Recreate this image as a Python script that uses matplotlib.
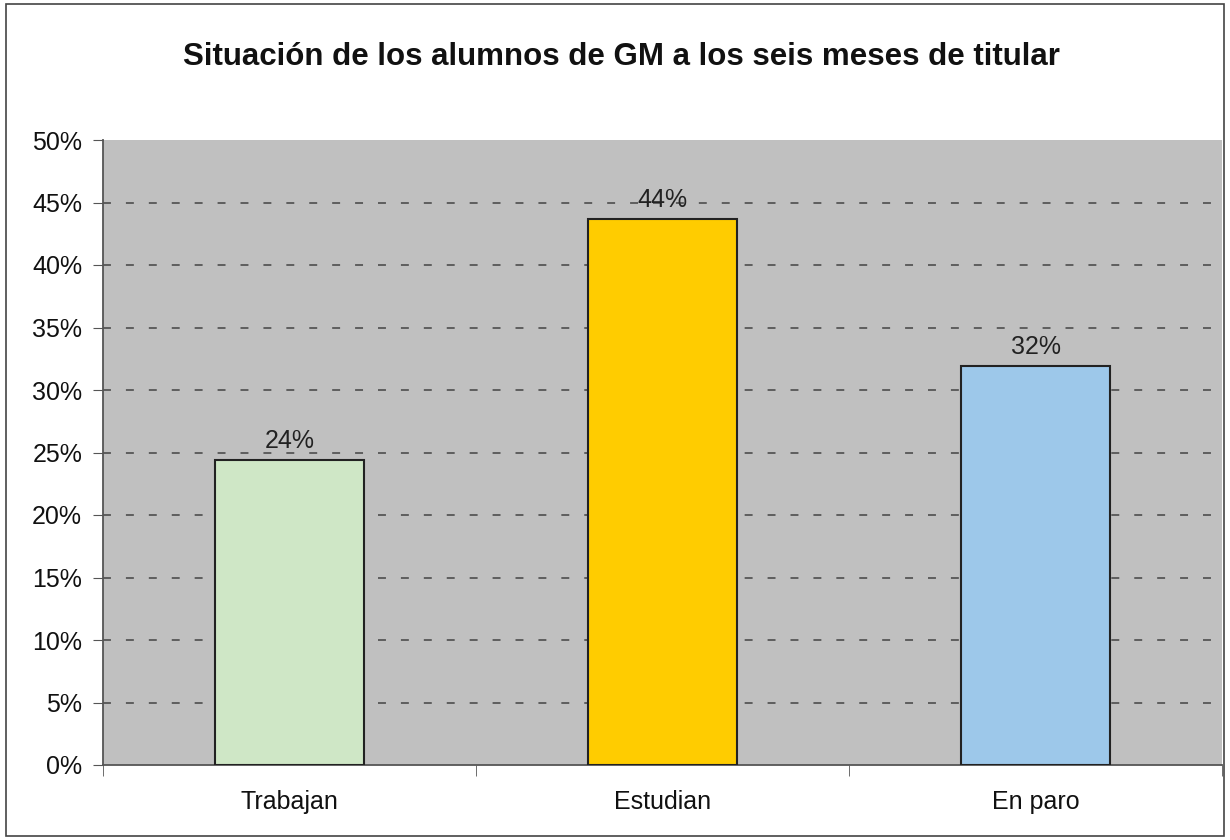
import numpy as np
import matplotlib.pyplot as plt
from matplotlib.patches import Rectangle
from matplotlib.ticker import FixedLocator, PercentFormatter

# datos
categorias = ["Trabajan", "Estudian", "En paro"]
valores = [24.4, 43.7, 31.9]
etiquetas = ["24%", "44%", "32%"]
colores = ["#CFE7C6", "#FFCC00", "#9DC8EA"]

plt.rcParams["font.family"] = ["Liberation Sans", "DejaVu Sans"]

fig = plt.figure(figsize=(12.3, 8.4), dpi=100)
ax = fig.add_axes([103 / 1230, 75 / 840, 1119 / 1230, 625 / 840])

# borde de la figura
fig.patches.append(Rectangle((6 / 1230, 4 / 840), 1218 / 1230, 832 / 840,
                             transform=fig.transFigure, fill=False,
                             edgecolor="#444444", linewidth=1.2))

x = np.arange(len(categorias))
ax.set_facecolor("#C0C0C0")
bars = ax.bar(x, valores, width=0.4, color=colores, edgecolor="#222222",
              linewidth=1.5, zorder=3)

for b, lab in zip(bars, etiquetas):
    ax.annotate(lab, (b.get_x() + b.get_width() / 2, b.get_height()),
                xytext=(0, 5), textcoords="offset points",
                ha="center", va="bottom", fontsize=18, color="#222222")

ax.set_xlim(-0.5, 2.5)
ax.set_ylim(0, 50)
ax.set_yticks(np.arange(0, 51, 5))
ax.yaxis.set_major_formatter(PercentFormatter(decimals=0))
ax.tick_params(axis="y", labelsize=18, length=7, color="#555555",
               labelcolor="#111111", pad=8)

ax.set_xticks(x)
ax.set_xticklabels(categorias)
ax.tick_params(axis="x", which="major", length=0, labelsize=18, pad=18,
               labelcolor="#111111")
ax.xaxis.set_minor_locator(FixedLocator([-0.5, 0.5, 1.5, 2.5]))
ax.tick_params(axis="x", which="minor", length=8, color="#555555")

for gy in np.arange(5, 50, 5):
    ax.axhline(gy, color="#444444", linestyle=(0, (5.2, 9.8)), linewidth=1.1,
               zorder=1)

for s in ["top", "right"]:
    ax.spines[s].set_visible(False)
for s in ["left", "bottom"]:
    ax.spines[s].set_color("#555555")
    ax.spines[s].set_linewidth(1.3)

fig.text(0.505, 1 - 57 / 840, "Situación de los alumnos de GM a los seis meses de titular",
         ha="center", va="center", fontsize=22.5, fontweight="bold", color="#111111")

fig.savefig("out.png", dpi=100)
